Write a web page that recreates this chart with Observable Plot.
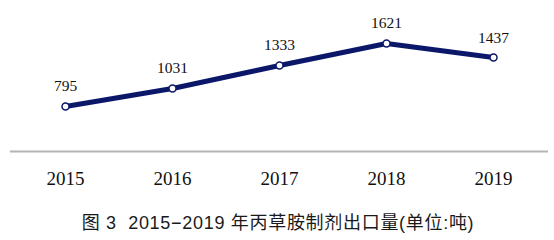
<!DOCTYPE html>
<html>
<head>
<meta charset="utf-8">
<script src="https://cdn.jsdelivr.net/npm/d3@7"></script>
<script src="https://cdn.jsdelivr.net/npm/@observablehq/plot@0.6"></script>
<style>
  html, body { margin: 0; padding: 0; background: #fff; }
  #chart { width: 554px; }
  #caption {
    width: 554px;
    text-align: center;
    font-family: "Liberation Sans", "Noto Sans CJK SC", sans-serif;
    font-size: 18px;
    line-height: 20px;
    color: #1a1a1a;
    margin-top: 18px;
    letter-spacing: 0.7px;
    padding-left: 1px;
  }
</style>
</head>
<body>
<div id="chart"></div>
<div id="caption">图 3&nbsp; 2015−2019 年丙草胺制剂出口量(单位:吨)</div>
<script>
const years = ["2015", "2016", "2017", "2018", "2019"];
const exports = [795, 1031, 1333, 1621, 1437];

const data = years.map((y, i) => ({year: y, value: exports[i]}));
const navy = "#0b186a";

const plot = Plot.plot({
  width: 554,
  height: 195,
  marginLeft: 10,
  marginRight: 6,
  marginTop: 20,
  marginBottom: 44,
  x: {type: "point", domain: years, padding: 0.5},
  y: {domain: [205, 1923], axis: null},
  style: {background: "#fff"},
  marks: [
    Plot.ruleY([205], {stroke: "#b4b4b4", strokeWidth: 2}),
    Plot.axisX({
      tickSize: 0,
      tickPadding: 20,
      fontSize: 19,
      fontFamily: "Liberation Serif, serif",
      fill: "#111",
      label: null
    }),
    Plot.line(data, {x: "year", y: "value", stroke: navy, strokeWidth: 5, curve: "linear"}),
    Plot.dot(data, {x: "year", y: "value", r: 3.5, fill: "#fff", stroke: navy, strokeWidth: 1.5}),
    Plot.text(data, {
      x: "year", y: "value", text: d => String(d.value),
      dy: -20, fontSize: 15.5, fontFamily: "Liberation Serif, serif",
      fill: "#111", textAnchor: "middle", lineAnchor: "middle"
    })
  ]
});
document.getElementById("chart").appendChild(plot);
</script>
</body>
</html>
